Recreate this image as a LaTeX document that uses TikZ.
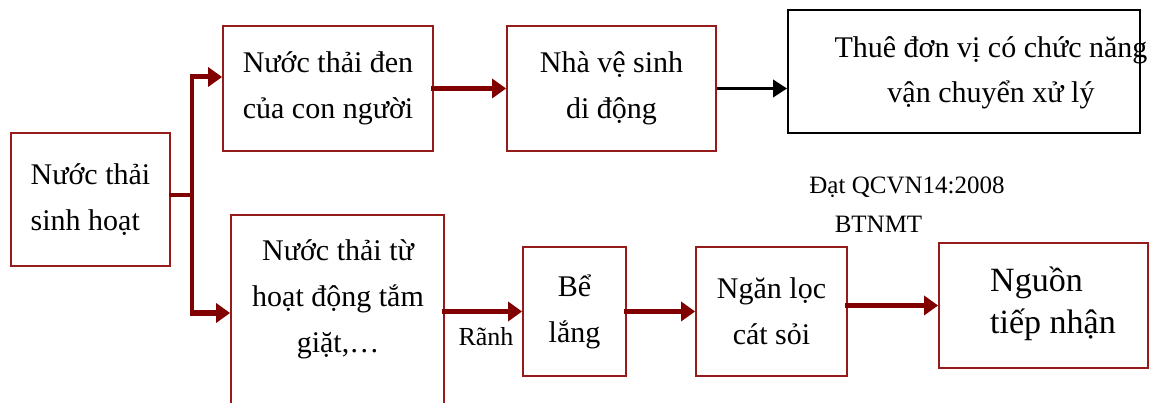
\documentclass[tikz,border=0pt]{standalone}
\usepackage{fontspec}
\setmainfont{Liberation Serif}
\usepackage{tikz}
\usetikzlibrary{shapes,arrows.meta,positioning,calc}
\usepackage{xcolor}
\definecolor{boxred}{RGB}{150,28,28}
\definecolor{flowred}{RGB}{128,0,0}

\begin{document}
\begin{tikzpicture}[x=1pt,y=-1pt,
    box/.style={draw=boxred,line width=1.8pt,inner sep=0pt,align=center,font=\fontsize{30}{46}\selectfont},
    blackbox/.style={box,draw=black},
    txt/.style={inner sep=0pt,align=center,font=\fontsize{30}{45}\selectfont},
    note/.style={inner sep=0pt,font=\fontsize{25}{30}\selectfont},
    trunk/.style={draw=flowred,line width=4pt,line cap=rect},
    flow/.style={draw=flowred,line width=5pt,line cap=rect,-{Triangle[length=14pt,width=19pt]}},
    blackflow/.style={draw=black,line width=3.5pt,-{Triangle[length=14pt,width=17pt]}}]
            \useasboundingbox (0,0) rectangle (1159,403);
            \clip (0,0) rectangle (1159,403);

            % Boxes
            \node[box,align=left,minimum width=159,minimum height=133] (sinh) at (90.5,199.5) {Nước thải\\sinh hoạt};
            \node[box,align=left,minimum width=210,minimum height=125] (den) at (328,88.5) {Nước thải đen\\của con người};
            \node[box,minimum width=209,minimum height=125] (nvs) at (611.5,88.5) {Nhà vệ sinh\\di động};
            \node[blackbox,minimum width=352,minimum height=123] (thue) at (964,71.5) {};
            \node[txt] (thuetxt) at ($(thue.center)+(27,1)$) {Thuê đơn vị có chức năng\\vận chuyển xử lý};
            \node[box,minimum width=213,minimum height=225] (tam) at (337.5,327.5) {};
            \node[txt,font=\fontsize{30}{46}\selectfont] (tamtxt) at (338,299) {Nước thải từ\\hoạt động tắm\\giặt,…};
            \node[box,minimum width=103,minimum height=129] (be) at (574.5,311.5) {Bể\\lắng};
            \node[box,minimum width=151,minimum height=129] (ngan) at (771.5,311.5) {Ngăn lọc\\cát sỏi};
            \node[box,minimum width=209,minimum height=125] (nguon) at (1043.5,305.5) {};
            \node[txt,align=left,anchor=west,font=\fontsize{34}{42}\selectfont] (nguontxt) at (990,304) {Nguồn\\tiếp nhận};

            % Labels
            \node[note] (dat) at (907,187) {Đạt QCVN14:2008};
            \node[note] (btnmt) at (878.5,224) {BTNMT};
            \node[note,font=\fontsize{26}{30}\selectfont] (ranh) at (486,337) {Rãnh};

            % Split
            \coordinate (jtop) at (192,77);
            \coordinate (jbot) at (192,313);
            \draw[trunk] (sinh.east |- 0,195) -- (jtop |- 0,195);
            \draw[trunk] (jtop) -- (jbot);
            \draw[flow] (jtop) -- (jtop -| den.west);
            \draw[flow] (jbot) -- (jbot -| tam.west);

            % Flow
            \draw[flow] (den.east) -- (nvs.west);
            \draw[blackflow] (nvs.east) -- (nvs.east -| thue.west);
            \draw[flow] (tam.east |- be.west) -- (be.west);
            \draw[flow] (be.east) -- (ngan.west);
            \draw[flow] (ngan.east |- nguon.west) -- (nguon.west);
        \end{tikzpicture}
\end{document}
